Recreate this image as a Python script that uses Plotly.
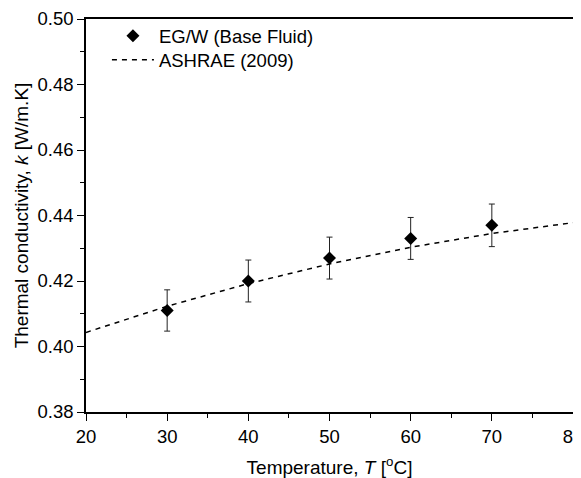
import plotly.graph_objects as go

# Data
temp_exp = [30, 40, 50, 60, 70]
k_exp = [0.411, 0.420, 0.427, 0.433, 0.437]
k_err = [0.0063, 0.0064, 0.0064, 0.0064, 0.0065]

temp_ashrae = [20, 30, 40, 50, 60, 70, 80]
k_ashrae = [0.4043, 0.4123, 0.4192, 0.4252, 0.4303, 0.4345, 0.4378]

FONT = "Liberation Sans, Arial, sans-serif"

fig = go.Figure()
fig.add_trace(go.Scatter(
    x=temp_exp, y=k_exp, mode="markers", name="EG/W (Base Fluid)",
    marker=dict(symbol="diamond", size=10, color="black"),
    error_y=dict(type="data", array=k_err, visible=True, color="#222222",
                 thickness=1, width=3),
    legend="legend",
))
fig.add_trace(go.Scatter(
    x=temp_ashrae, y=k_ashrae, mode="lines", name="ASHRAE (2009)",
    line=dict(color="black", width=1.5, dash="5px,5px"),
    legend="legend2",
))

leg_common = dict(xanchor="left", yanchor="middle", bgcolor="rgba(0,0,0,0)",
                  font=dict(size=18.5), itemwidth=42)

fig.update_layout(
    width=573, height=470,
    margin=dict(l=78, r=8, t=11, b=66),
    paper_bgcolor="white", plot_bgcolor="white",
    font=dict(family=FONT, size=18.5, color="black"),
    showlegend=True,
    legend=dict(x=0.043, y=0.956, **leg_common),
    legend2=dict(x=0.043, y=0.895, **leg_common),
)
fig.update_xaxes(
    range=[20, 80], dtick=10, tick0=20, automargin=False,
    ticklabeloverflow="allow",
    showline=True, linecolor="black", linewidth=1.5, mirror=True,
    ticks="outside", ticklen=7, tickwidth=1.3, tickcolor="black",
    minor=dict(dtick=5, ticks="outside", ticklen=4, tickwidth=1.3, tickcolor="black"),
    showgrid=False, zeroline=False,
    title=dict(text="Temperature, <i>T</i> [<sup>o</sup>C]", standoff=16,
               font=dict(size=19)),
    tickfont=dict(size=18.5),
)
fig.update_yaxes(
    range=[0.38, 0.50], dtick=0.02, tick0=0.38, tickformat=".2f", automargin=False,
    ticklabeloverflow="allow",
    showline=True, linecolor="black", linewidth=1.5, mirror=True,
    ticks="outside", ticklen=7, tickwidth=1.3, tickcolor="black",
    minor=dict(dtick=0.01, ticks="outside", ticklen=4, tickwidth=1.3, tickcolor="black"),
    showgrid=False, zeroline=False,
    title=dict(text="Thermal conductivity, <i>k</i> [W/m.K]", standoff=4,
               font=dict(size=19)),
    tickfont=dict(size=18.5),
)

fig.write_html("out.html")
